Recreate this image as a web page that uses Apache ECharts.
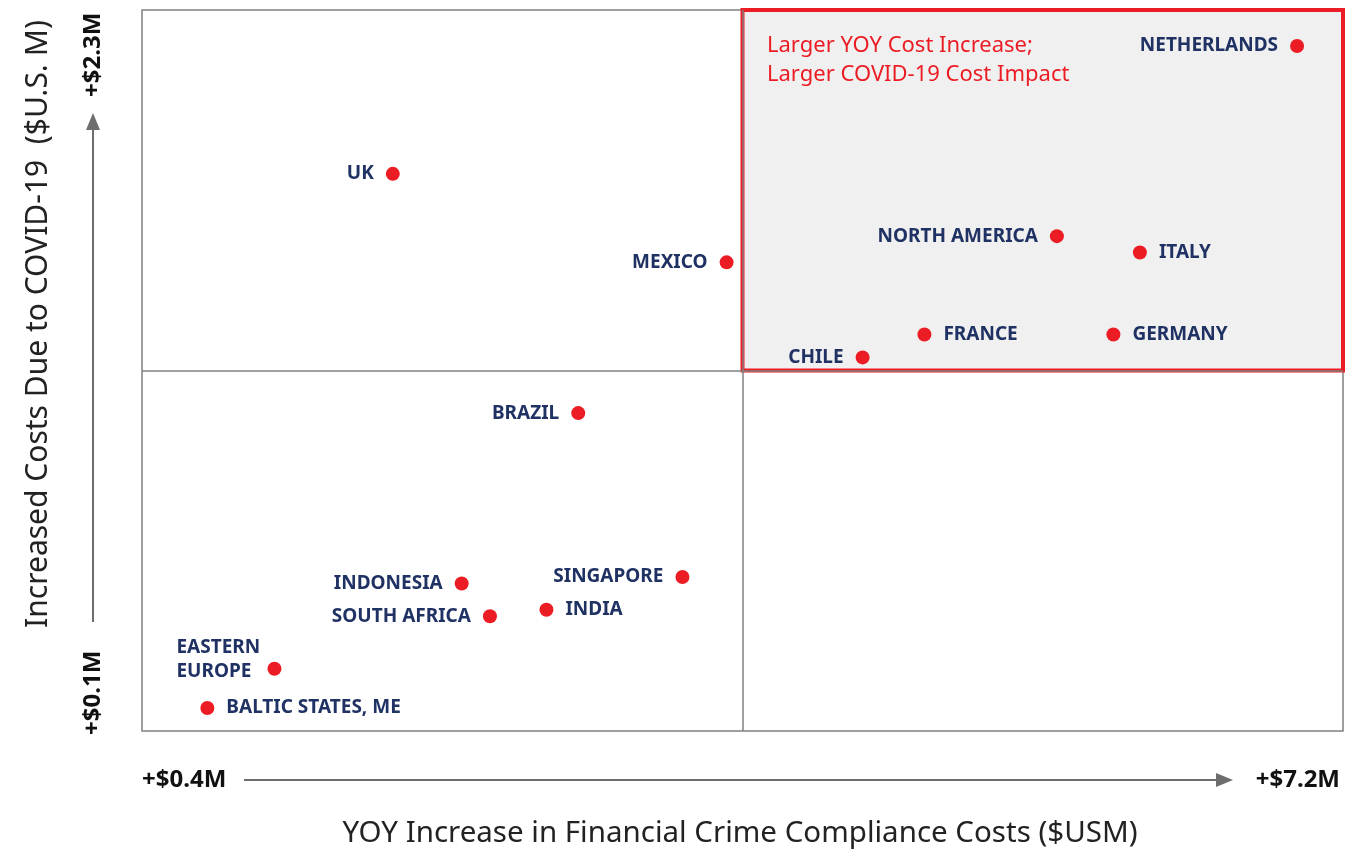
<!DOCTYPE html>
<html>
<head>
<meta charset="utf-8">
<script src="https://cdn.jsdelivr.net/npm/echarts@6/dist/echarts.min.js"></script>
<style>
  html, body { margin: 0; padding: 0; background: #fff; }
  #chart { width: 1353px; height: 851px; }
</style>
</head>
<body>
<div id="chart"></div>
<script>
// 数据
var names = ["NETHERLANDS", "UK", "NORTH AMERICA", "ITALY", "MEXICO", "FRANCE", "GERMANY", "CHILE",
  "BRAZIL", "SINGAPORE", "INDONESIA", "INDIA", "SOUTH AFRICA", "EASTERN\nEUROPE", "BALTIC STATES, ME"];
var xValues = [6.94, 1.82, 5.58, 6.05, 3.71, 4.83, 5.90, 4.48, 2.87, 3.46, 2.21, 2.69, 2.37, 1.15, 0.77];
var yValues = [2.19, 1.80, 1.61, 1.56, 1.53, 1.31, 1.31, 1.24, 1.07, 0.57, 0.55, 0.47, 0.45, 0.29, 0.17];
var labelSide = ["left", "left", "left", "right", "left", "right", "right", "left",
  "left", "left", "left", "right", "left", "left", "right"];
var xRange = [0.4, 7.2];
var yRange = [0.1, 2.3];
var xMid = 3.8;
var yMid = 1.2;
var xTickLabels = ["+$0.4M", "+$7.2M"];
var yTickLabels = ["+$0.1M", "+$2.3M"];
var quadrantTitle = "Larger YOY Cost Increase;\nLarger COVID-19 Cost Impact";
var xTitle = "YOY Increase in Financial Crime Compliance Costs ($USM)";
var yTitle = "Increased Costs Due to COVID-19  ($U.S. M)";

var FONT = "Noto Sans";
var RED = "#ec1c24";
var NAVY = "#1f3263";
var GRAY = "#808080";

var chart = echarts.init(document.getElementById("chart"));

var points = names.map(function (n, i) {
  var d = {
    name: n,
    value: [xValues[i], yValues[i]],
    label: { position: labelSide[i] }
  };
  if (n.indexOf("\n") >= 0) {
    // 两行标签，左对齐
    d.label = { position: "left", align: "left", offset: [-79, -9] };
  }
  return d;
});

var option = {
  animation: false,
  grid: {
    left: 142, top: 10, width: 1201, height: 721,
    show: true, borderColor: GRAY, borderWidth: 1.5, backgroundColor: "#fff"
  },
  xAxis: {
    type: "value", min: xRange[0], max: xRange[1],
    axisLine: { show: false }, axisTick: { show: false },
    axisLabel: { show: false }, splitLine: { show: false }
  },
  yAxis: {
    type: "value", min: yRange[0], max: yRange[1],
    axisLine: { show: false }, axisTick: { show: false },
    axisLabel: { show: false }, splitLine: { show: false }
  },
  series: [
    {
      type: "scatter",
      symbol: "circle",
      symbolSize: 14,
      itemStyle: { color: RED, opacity: 1 },
      label: {
        show: true,
        formatter: "{b}",
        distance: 12,
        color: NAVY,
        opacity: 1,
        fontFamily: FONT,
        fontWeight: "bold",
        fontSize: 19,
        lineHeight: 24
      },
      data: points,
      markArea: {
        silent: true,
        itemStyle: { color: "#f0f0f0", borderColor: RED, borderWidth: 4, opacity: 1 },
        label: { show: false },
        data: [[
          { coord: [xMid, yMid] },
          { coord: [xRange[1], yRange[1]] }
        ]]
      },
      markLine: {
        silent: true,
        symbol: "none",
        label: { show: false },
        lineStyle: { color: GRAY, width: 1.5, type: "solid", opacity: 1 },
        data: [{ xAxis: xMid }, { yAxis: yMid }]
      },
      z: 3
    }
  ],
  graphic: [
    // 象限标题
    { type: "text", x: 767, y: 31, z: 10, style: { text: quadrantTitle, font: "22px " + FONT, fill: RED, lineHeight: 29 } },
    // x 箭头
    { type: "line", shape: { x1: 244, y1: 780, x2: 1218, y2: 780 }, style: { stroke: "#6d6d6d", lineWidth: 2 } },
    { type: "polygon", shape: { points: [[1216, 773], [1233, 780], [1216, 787]] }, style: { fill: "#6d6d6d" } },
    // y 箭头
    { type: "line", shape: { x1: 93, y1: 622, x2: 93, y2: 128 }, style: { stroke: "#6d6d6d", lineWidth: 2 } },
    { type: "polygon", shape: { points: [[86, 130], [93, 113], [100, 130]] }, style: { fill: "#6d6d6d" } },
    // 端点标签
    { type: "text", x: 142, y: 780, style: { text: xTickLabels[0], font: "bold 24px " + FONT, fill: "#111", verticalAlign: "middle" } },
    { type: "text", x: 1340, y: 780, style: { text: xTickLabels[1], font: "bold 24px " + FONT, fill: "#111", align: "right", verticalAlign: "middle" } },
    { type: "text", x: 93, y: 735, rotation: Math.PI / 2, style: { text: yTickLabels[0], font: "bold 24px " + FONT, fill: "#111", align: "left", verticalAlign: "middle" } },
    { type: "text", x: 93, y: 97, rotation: Math.PI / 2, style: { text: yTickLabels[1], font: "bold 24px " + FONT, fill: "#111", align: "left", verticalAlign: "middle" } },
    // 轴标题
    { type: "text", x: 740, y: 834, style: { text: xTitle, font: "29.5px " + FONT, fill: "#222", align: "center", verticalAlign: "middle" } },
    { type: "text", x: 38, y: 324, rotation: Math.PI / 2, style: { text: yTitle, font: "30px " + FONT, fill: "#222", align: "center", verticalAlign: "middle" } }
  ]
};

chart.setOption(option);
window.addEventListener("resize", function () {
  chart.resize();
});
</script>
</body>
</html>
